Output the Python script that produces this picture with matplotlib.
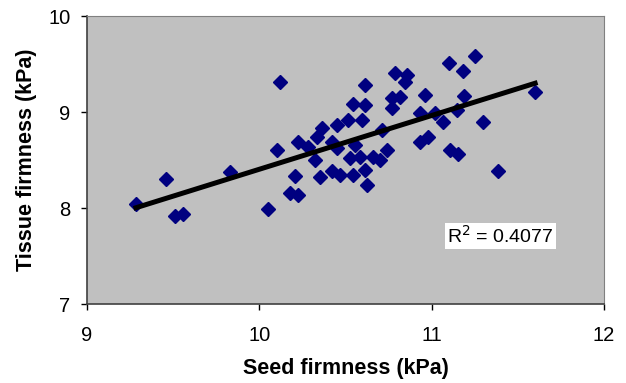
import numpy as np
import matplotlib
matplotlib.use("Agg")
import matplotlib.pyplot as plt

plt.rcParams['font.family'] = ['Liberation Sans', 'DejaVu Sans']

# seed firmness (kPa) vs tissue firmness (kPa)
seed = [9.284, 9.459, 9.511, 9.557, 9.830, 10.050, 10.120, 10.103, 10.178, 10.225,
        10.207, 10.225, 10.283, 10.323, 10.352, 10.335, 10.364, 10.422, 10.468, 10.544,
        10.613, 10.625, 10.422, 10.451, 10.451, 10.515, 10.544, 10.596, 10.613, 10.613,
        10.555, 10.526, 10.584, 10.660, 10.701, 10.741, 10.712, 10.770, 10.817, 10.770,
        10.788, 10.857, 10.846, 10.933, 11.020, 11.066, 11.147, 10.962, 10.933, 10.979,
        11.101, 11.252, 11.182, 11.188, 11.107, 11.153, 11.298, 11.385, 11.600]
tissue = [8.042, 8.302, 7.917, 7.938, 8.375, 7.990, 9.313, 8.604, 8.156, 8.135,
          8.333, 8.688, 8.635, 8.500, 8.323, 8.740, 8.833, 8.385, 8.344, 8.344,
          8.396, 8.240, 8.688, 8.625, 8.865, 8.917, 9.083, 8.917, 9.073, 9.281,
          8.656, 8.521, 8.531, 8.531, 8.500, 8.604, 8.813, 9.146, 9.156, 9.042,
          9.406, 9.385, 9.313, 8.990, 8.990, 8.896, 9.021, 9.177, 8.688, 8.740,
          9.510, 9.583, 9.427, 9.167, 8.604, 8.563, 8.896, 8.385, 9.208]
r2_text = "R$^2$ = 0.4077"

fig = plt.figure(figsize=(6.26, 3.83), dpi=100)
ax = fig.add_axes([0.139, 0.206, 0.826, 0.752])
ax.set_facecolor('#C0C0C0')

ax.plot(seed, tissue, 'D', color='#000080', ms=7, mec='#000080', zorder=3)

# linear trendline over the data range
slope, icpt = np.polyfit(seed, tissue, 1)
xs = np.array([min(seed), max(seed)])
ax.plot(xs, slope * xs + icpt, color='black', lw=3.6, zorder=4)

ax.text(11.40, 7.71, r2_text, fontsize=14, ha='center', va='center',
        bbox=dict(facecolor='white', edgecolor='none', pad=1.5), zorder=5)

ax.set_xlim(9, 12)
ax.set_ylim(7, 10)
ax.set_xticks([9, 10, 11, 12])
ax.set_yticks([7, 8, 9, 10])
ax.tick_params(direction='out', length=4, width=1, labelsize=14.5)
ax.tick_params(axis='x', pad=12)
ax.tick_params(axis='y', pad=8)
for s in ['top', 'right']:
    ax.spines[s].set_color('#808080')
for s in ['left', 'bottom']:
    ax.spines[s].set_color('#404040')
    ax.spines[s].set_linewidth(1.2)

ax.set_xlabel("Seed firmness (kPa)", fontsize=15.5, fontweight='bold', labelpad=9)
ax.set_ylabel("Tissue firmness (kPa)", fontsize=15.5, fontweight='bold', labelpad=8)

fig.savefig('out.png', dpi=100)
